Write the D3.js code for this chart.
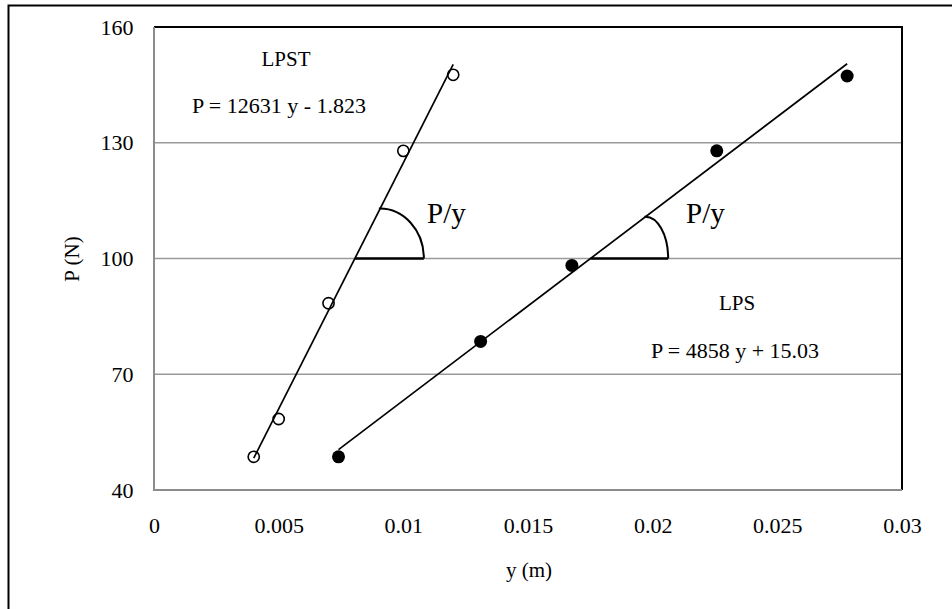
<!DOCTYPE html>
<html>
<head>
<meta charset="utf-8">
<script src="https://cdnjs.cloudflare.com/ajax/libs/d3/7.8.5/d3.min.js"></script>
<style>
html,body{margin:0;padding:0;background:#fff;}
svg{display:block;}
text{font-family:"Liberation Serif","Times New Roman",serif;fill:#000;}
</style>
</head>
<body>
<svg id="chart" width="952" height="609"></svg>
<script>
// ---- data ----
const lpstY = [0.004, 0.005, 0.007, 0.010, 0.012];
const lpstP = [48.6, 58.4, 88.4, 127.9, 147.6];
const lpsY  = [0.0074, 0.0131, 0.01676, 0.02257, 0.0278];
const lpsP  = [48.6, 78.5, 98.2, 127.9, 147.3];
const xTicks = [0, 0.005, 0.01, 0.015, 0.02, 0.025, 0.03];
const xTickLabels = ["0", "0.005", "0.01", "0.015", "0.02", "0.025", "0.03"];
const yTicks = [40, 70, 100, 130, 160];
const gridValues = [70, 100, 130];
const lpstLabel = "LPST";
const lpstEq = "P = 12631 y - 1.823";
const lpsLabel = "LPS";
const lpsEq = "P = 4858 y + 15.03";
const angleLabel = "P/y";
const angleLevel = 100;

// ---- layout ----
const L = 154, R = 902, T = 27, B = 490;
const svg = d3.select("#chart");
svg.append("rect").attr("width",952).attr("height",609).attr("fill","#fff");

const x = d3.scaleLinear().domain([0, 0.03]).range([L, R]);
const y = d3.scaleLinear().domain([40, 160]).range([B, T]);

// outer frame
svg.append("rect").attr("x",8.5).attr("y",5.5).attr("width",980).attr("height",640)
  .attr("fill","none").attr("stroke","#000").attr("stroke-width",2);

// gridlines
svg.append("g").selectAll("line").data(gridValues).join("line")
  .attr("x1",L).attr("x2",R).attr("y1",d=>y(d)).attr("y2",d=>y(d))
  .attr("stroke","#9a9a9a").attr("stroke-width",1.6);

// plot border
svg.append("line").attr("x1",L).attr("x2",R+1).attr("y1",T).attr("y2",T).attr("stroke","#000").attr("stroke-width",2);
svg.append("line").attr("x1",R).attr("x2",R).attr("y1",T).attr("y2",B).attr("stroke","#000").attr("stroke-width",2);
svg.append("line").attr("x1",L).attr("x2",R).attr("y1",B).attr("y2",B).attr("stroke","#8c8c8c").attr("stroke-width",2);
svg.append("line").attr("x1",L).attr("x2",L).attr("y1",T).attr("y2",B+1).attr("stroke","#8c8c8c").attr("stroke-width",2);

// axes (labels only)
const yAxis = svg.append("g").attr("transform",`translate(${L},0)`)
  .call(d3.axisLeft(y).tickValues(yTicks).tickSize(0).tickPadding(20.5));
yAxis.select(".domain").remove();
yAxis.selectAll("text").attr("font-size",22).attr("font-family","Liberation Serif, Times New Roman, serif");

const xAxis = svg.append("g").attr("transform",`translate(0,${B})`)
  .call(d3.axisBottom(x).tickValues(xTicks).tickSize(0).tickPadding(27)
    .tickFormat((d,i)=>xTickLabels[i]));
xAxis.select(".domain").remove();
xAxis.selectAll("text").attr("font-size",22).attr("font-family","Liberation Serif, Times New Roman, serif");

// axis titles
svg.append("text").attr("x",(L+R)/2+1).attr("y",577).attr("text-anchor","middle")
  .attr("font-size",21).text("y (m)");
svg.append("text").attr("transform","translate(79,259) rotate(-90)").attr("text-anchor","middle")
  .attr("font-size",21).text("P (N)");

// regression
function fit(xs, ys){
  const mx=d3.mean(xs), my=d3.mean(ys);
  let sxy=0,sxx=0;
  xs.forEach((v,i)=>{sxy+=(v-mx)*(ys[i]-my); sxx+=(v-mx)*(v-mx);});
  const m=sxy/sxx; return {m, b:my-m*mx, x0:d3.min(xs), x1:d3.max(xs)};
}
const fLPST = fit(lpstY, lpstP), fLPS = fit(lpsY, lpsP);

// markers
const g = svg.append("g");
g.selectAll("circle.o").data(lpstY).join("circle").attr("class","o")
  .attr("cx",d=>x(d)).attr("cy",(d,i)=>y(lpstP[i])).attr("r",5.6)
  .attr("fill","#fff").attr("stroke","#000").attr("stroke-width",1.6);
g.selectAll("circle.f").data(lpsY).join("circle").attr("class","f")
  .attr("cx",d=>x(d)).attr("cy",(d,i)=>y(lpsP[i])).attr("r",6.5)
  .attr("fill","#000");

// trendlines
[fLPST, fLPS].forEach(f=>{
  svg.append("line").attr("x1",x(f.x0)).attr("y1",y(f.m*f.x0+f.b))
    .attr("x2",x(f.x1)).attr("y2",y(f.m*f.x1+f.b))
    .attr("stroke","#000").attr("stroke-width",1.7);
});

// angle annotations
function angle(f, cOff, rx, ry){
  const xi = x((angleLevel - f.b)/f.m), yi = y(angleLevel);
  const cx = xi + cOff;
  svg.append("line").attr("x1",xi).attr("x2",cx+rx).attr("y1",yi).attr("y2",yi)
    .attr("stroke","#000").attr("stroke-width",2.4);
  svg.append("path").attr("d",`M${cx-1},${yi-ry} A${rx},${ry} 0 0 1 ${cx+rx},${yi}`)
    .attr("fill","none").attr("stroke","#000").attr("stroke-width",2);
  return cx;
}
angle(fLPST, 25, 44, 50);
angle(fLPS, 55, 22.7, 41.7);

svg.append("text").attr("x",427).attr("y",223).attr("font-size",29).text(angleLabel);
svg.append("text").attr("x",686).attr("y",223).attr("font-size",29).text(angleLabel);

// labels
svg.append("text").attr("x",286).attr("y",65.5).attr("text-anchor","middle").attr("font-size",21).text(lpstLabel);
svg.append("text").attr("x",279).attr("y",113).attr("text-anchor","middle").attr("font-size",22).text(lpstEq);
svg.append("text").attr("x",737).attr("y",310).attr("text-anchor","middle").attr("font-size",21).text(lpsLabel);
svg.append("text").attr("x",735).attr("y",358).attr("text-anchor","middle").attr("font-size",22).text(lpsEq);
</script>
</body>
</html>
